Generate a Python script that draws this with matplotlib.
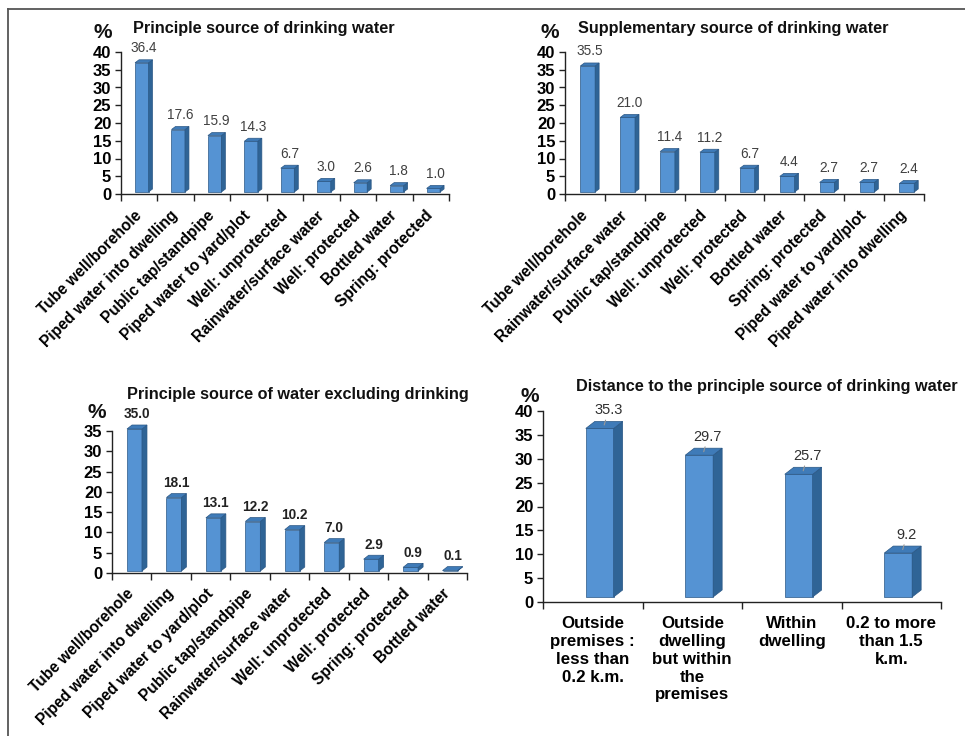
import matplotlib
matplotlib.use('Agg')
import matplotlib.pyplot as plt
from matplotlib.lines import Line2D
import numpy as np

plt.rcParams['font.family'] = ['Liberation Sans', 'DejaVu Sans']

# ---------------- data ----------------
p1_title = "Principle source of drinking water"
p1_cats = ["Tube well/borehole", "Piped water into dwelling", "Public tap/standpipe",
           "Piped water to yard/plot", "Well: unprotected", "Rainwater/surface water",
           "Well: protected", "Bottled water", "Spring: protected"]
p1_vals = [36.4, 17.6, 15.9, 14.3, 6.7, 3.0, 2.6, 1.8, 1.0]

p2_title = "Supplementary source of drinking water"
p2_cats = ["Tube well/borehole", "Rainwater/surface water", "Public tap/standpipe",
           "Well: unprotected", "Well: protected", "Bottled water", "Spring: protected",
           "Piped water to yard/plot", "Piped water into dwelling"]
p2_vals = [35.5, 21.0, 11.4, 11.2, 6.7, 4.4, 2.7, 2.7, 2.4]

p3_title = "Principle source of water excluding drinking"
p3_cats = ["Tube well/borehole", "Piped water into dwelling", "Piped water to yard/plot",
           "Public tap/standpipe", "Rainwater/surface water", "Well: unprotected",
           "Well: protected", "Spring: protected", "Bottled water"]
p3_vals = [35.0, 18.1, 13.1, 12.2, 10.2, 7.0, 2.9, 0.9, 0.1]

p4_title = "Distance to the principle source of drinking water"
p4_cats = ["Outside\npremises :\nless than\n0.2 k.m.",
           "Outside\ndwelling\nbut within\nthe\npremises",
           "Within\ndwelling",
           "0.2 to more\nthan 1.5\nk.m."]
p4_vals = [35.3, 29.7, 25.7, 9.2]

y_ticks_40 = [0, 5, 10, 15, 20, 25, 30, 35, 40]
y_ticks_35 = [0, 5, 10, 15, 20, 25, 30, 35]

# ---------------- style ----------------
W, H = 965, 736
DPI = 100
FRONT = '#5593d3'
SIDE = '#2f6496'
TOP = '#3f7bb8'
EDGE = '#2a5785'
AXC = '#222222'

fig = plt.figure(figsize=(W / DPI, H / DPI), dpi=DPI)
fig.patch.set_facecolor('white')


def fx(x):
    return x / W


def fy(y):
    return 1 - y / H


def panel(box, cats, vals, ymax, yticks, title, title_xy, pct_xy, st):
    left, top, right, bottom = box
    n = len(cats)
    ax = fig.add_axes([fx(left), fy(bottom), (right - left) / W, (bottom - top) / H])
    ax.set_xlim(-0.5, n - 0.5)
    ax.set_ylim(0, ymax)
    ax.set_facecolor('none')
    for s in ['top', 'right']:
        ax.spines[s].set_visible(False)
    for s in ['left', 'bottom']:
        ax.spines[s].set_color(AXC)
        ax.spines[s].set_linewidth(1.0)

    px_x = (right - left) / n
    px_y = (bottom - top) / ymax
    dxd = st['dx'] / px_x
    dyd = st['dy'] / px_y
    upd = st['up'] / px_y
    w = st['w']
    off = st['off']
    xs = np.arange(n) + off
    ax.bar(xs, vals, width=w, bottom=upd, color=FRONT, edgecolor=EDGE,
           linewidth=0.5, clip_on=False, zorder=3)
    for x, v in zip(xs, vals):
        x0 = x - w / 2
        x1 = x + w / 2
        ax.fill([x1, x1 + dxd, x1 + dxd, x1], [upd, upd + dyd, upd + v + dyd, upd + v],
                color=SIDE, ec=EDGE, lw=0.5, clip_on=False, zorder=3)
        ax.fill([x0, x1, x1 + dxd, x0 + dxd], [upd + v, upd + v, upd + v + dyd, upd + v + dyd],
                color=TOP, ec=EDGE, lw=0.5, clip_on=False, zorder=3)
        lx = x + dxd / 2
        if st.get('leader'):
            ax.annotate(f"{v:.1f}", (lx, upd + v + dyd / 2), xytext=(3, st['lab_off']),
                        textcoords='offset points', ha='center', va='center',
                        fontsize=st['lab_fs'], color=st['lab_c'], fontweight=st['lab_w'],
                        annotation_clip=False, zorder=4,
                        arrowprops=dict(arrowstyle='-', color='#999999', lw=0.8,
                                        shrinkA=4, shrinkB=0))
        else:
            ax.annotate(f"{v:.1f}", (lx, v), xytext=(0, st['lab_off']),
                        textcoords='offset points', ha='center', va='center',
                        fontsize=st['lab_fs'], color=st['lab_c'], fontweight=st['lab_w'],
                        annotation_clip=False, zorder=4)

    ax.set_yticks(yticks)
    ax.set_yticklabels([str(t) for t in yticks], fontsize=12, fontweight='bold')
    ax.tick_params(axis='y', direction='out', length=4, width=1, color=AXC, pad=3)

    ax.set_xticks(np.arange(n + 1) - 0.5)
    ax.set_xticklabels([])
    ax.tick_params(axis='x', which='major', direction='out', length=5, width=1, color=AXC)
    ax.set_xticks(np.arange(n), minor=True)
    if st['rot']:
        ax.set_xticklabels(cats, minor=True, rotation=45, ha='right', va='center',
                           rotation_mode='anchor', fontsize=11.2, fontweight='bold')
    else:
        ax.set_xticklabels(cats, minor=True, ha='center', va='top', fontsize=12.2,
                           fontweight='bold', linespacing=1.24)
    ax.tick_params(axis='x', which='minor', length=0, pad=st['xpad'])

    fig.text(fx(title_xy[0]), fy(title_xy[1]), title, ha='left', va='center',
             fontsize=11.7, fontweight='bold', color='#111111')
    fig.text(fx(pct_xy[0]), fy(pct_xy[1]), '%', ha='center', va='center',
             fontsize=15, fontweight='bold', color='#111111')
    return ax


st_small = dict(dx=4, dy=3, up=2, w=0.37, off=0.07, lab_off=12, lab_fs=9.8,
                lab_c='#404040', lab_w='normal', rot=True, xpad=14)
st3 = dict(dx=5, dy=4, up=2, w=0.38, off=0.07, lab_off=12, lab_fs=9.8,
           lab_c='#222222', lab_w='bold', rot=True, xpad=13)
st4 = dict(dx=9, dy=7, up=5, w=0.28, off=0.07, lab_off=10.5, lab_fs=10.5,
           lab_c='#303030', lab_w='normal', rot=False, xpad=10, leader=True)

panel((121, 52, 449, 194), p1_cats, p1_vals, 40, y_ticks_40, p1_title, (133, 29), (103, 33), st_small)
panel((565, 52, 924, 194), p2_cats, p2_vals, 40, y_ticks_40, p2_title, (578, 29), (550, 33), st_small)
panel((112, 431, 467, 573), p3_cats, p3_vals, 35, y_ticks_35, p3_title, (127, 395), (97, 412), st3)
panel((543, 411, 941, 602), p4_cats, p4_vals, 40, y_ticks_40, p4_title, (576, 387), (530, 397), st4)

# figure frame (top and left edges)
fig.add_artist(Line2D([fx(8), 1], [fy(9), fy(9)], color='#555555', lw=1.3))
fig.add_artist(Line2D([fx(8), fx(8)], [fy(9), 0], color='#555555', lw=1.3))

fig.savefig('out.png', dpi=DPI)
